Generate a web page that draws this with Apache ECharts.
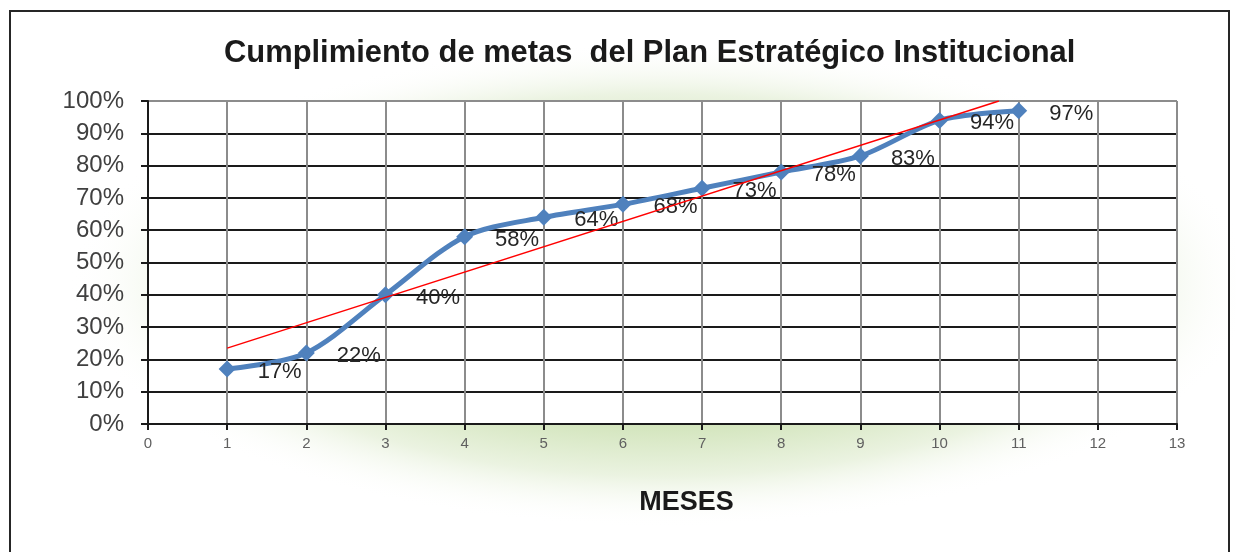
<!DOCTYPE html>
<html>
<head>
<meta charset="utf-8">
<script src="https://cdn.jsdelivr.net/npm/echarts@6/dist/echarts.min.js"></script>
<style>
  html, body { margin: 0; padding: 0; background: #fff; }
  #chart { width: 1236px; height: 552px; }
</style>
</head>
<body>
<div id="chart"></div>
<script>
// months and share of goals met (0..1)
const meses = [1, 2, 3, 4, 5, 6, 7, 8, 9, 10, 11]
const cumplimiento = [0.17, 0.22, 0.40, 0.58, 0.64, 0.68, 0.73, 0.78, 0.83, 0.94, 0.97]
// linear trend line (start / where it leaves the plot)
const tendenciaX = [1, 10.75]
const tendenciaY = [0.235, 1.0]

const titulo = 'Cumplimiento de metas  del Plan Estratégico Institucional'
const ejeX = 'MESES'

const font = '"Liberation Sans", Arial, sans-serif'
const blue = '#4f81bd'

const chart = echarts.init(document.getElementById('chart'))

// per-line colours for the horizontal grid: top line is grey like the border
const hLineColors = meses.map(() => '#1a1a1a').slice(0, 10).concat(['#8c8c8c'])

chart.setOption({
  animation: false,
  backgroundColor: '#fff',
  textStyle: { fontFamily: font },
  title: {
    text: titulo,
    left: 219,
    top: 33,
    textStyle: { fontSize: 30.9, fontWeight: 'bold', color: '#1a1a1a', fontFamily: font }
  },
  graphic: [
    // soft green glow round the plot area
    {
      type: 'circle',
      z: -10,
      x: 662,
      y: 285,
      scaleX: 2.08,
      scaleY: 0.85,
      shape: { cx: 0, cy: 0, r: 300 },
      style: {
        fill: new echarts.graphic.RadialGradient(0.5, 0.5, 0.5, [
          { offset: 0, color: '#c9dfac' },
          { offset: 0.55, color: '#d3e5bd' },
          { offset: 0.75, color: '#ebf3e1' },
          { offset: 0.95, color: 'rgba(255,255,255,0)' }
        ])
      },
      silent: true
    },
    // chart frame
    {
      type: 'rect',
      z: 10,
      shape: { x: 10, y: 11, width: 1219, height: 560 },
      style: { fill: 'none', stroke: '#262626', lineWidth: 2 },
      silent: true
    }
  ],
  grid: {
    left: 148,
    right: 59,
    top: 101,
    bottom: 128,
    show: true,
    backgroundColor: '#fff',
    borderWidth: 0
  },
  xAxis: {
    type: 'value',
    min: 0,
    max: 13,
    interval: 1,
    name: ejeX,
    nameLocation: 'middle',
    nameGap: 65,
    nameTextStyle: {
      fontSize: 27,
      fontWeight: 'bold',
      color: '#1a1a1a',
      fontFamily: font,
      padding: [0, 0, 0, 48]
    },
    axisLine: { show: true, onZero: false, lineStyle: { color: '#1a1a1a', width: 2 } },
    axisTick: { show: true, inside: false, length: 6, lineStyle: { color: '#1a1a1a', width: 2 } },
    axisLabel: { fontSize: 15, color: '#606060', margin: 12 },
    splitLine: { show: true, lineStyle: { color: '#8c8c8c', width: 2 } }
  },
  yAxis: {
    type: 'value',
    min: 0,
    max: 1,
    interval: 0.1,
    axisLine: { show: true, lineStyle: { color: '#1a1a1a', width: 2 } },
    axisTick: { show: true, inside: false, length: 7, lineStyle: { color: '#1a1a1a', width: 2 } },
    axisLabel: {
      fontSize: 24,
      color: '#404040',
      margin: 24,
      formatter: (v) => Math.round(v * 100) + '%'
    },
    splitLine: { show: true, lineStyle: { color: hLineColors, width: 2 } }
  },
  series: [
    {
      name: 'Cumplimiento',
      type: 'line',
      data: meses.map((m, i) => [m, cumplimiento[i]]),
      smooth: 0.3,
      symbol: 'diamond',
      symbolSize: 17,
      itemStyle: { color: blue },
      lineStyle: { color: blue, width: 5 },
      label: {
        show: true,
        position: 'right',
        distance: 22,
        offset: [0, 3],
        fontSize: 22,
        color: '#262626',
        fontFamily: font,
        formatter: (p) => Math.round(p.value[1] * 100) + '%'
      },
      z: 3
    },
    {
      name: 'Tendencia',
      type: 'line',
      data: tendenciaX.map((x, i) => [x, tendenciaY[i]]),
      symbol: 'none',
      lineStyle: { color: '#ff0000', width: 1.5 },
      z: 4
    }
  ]
})
</script>
</body>
</html>
